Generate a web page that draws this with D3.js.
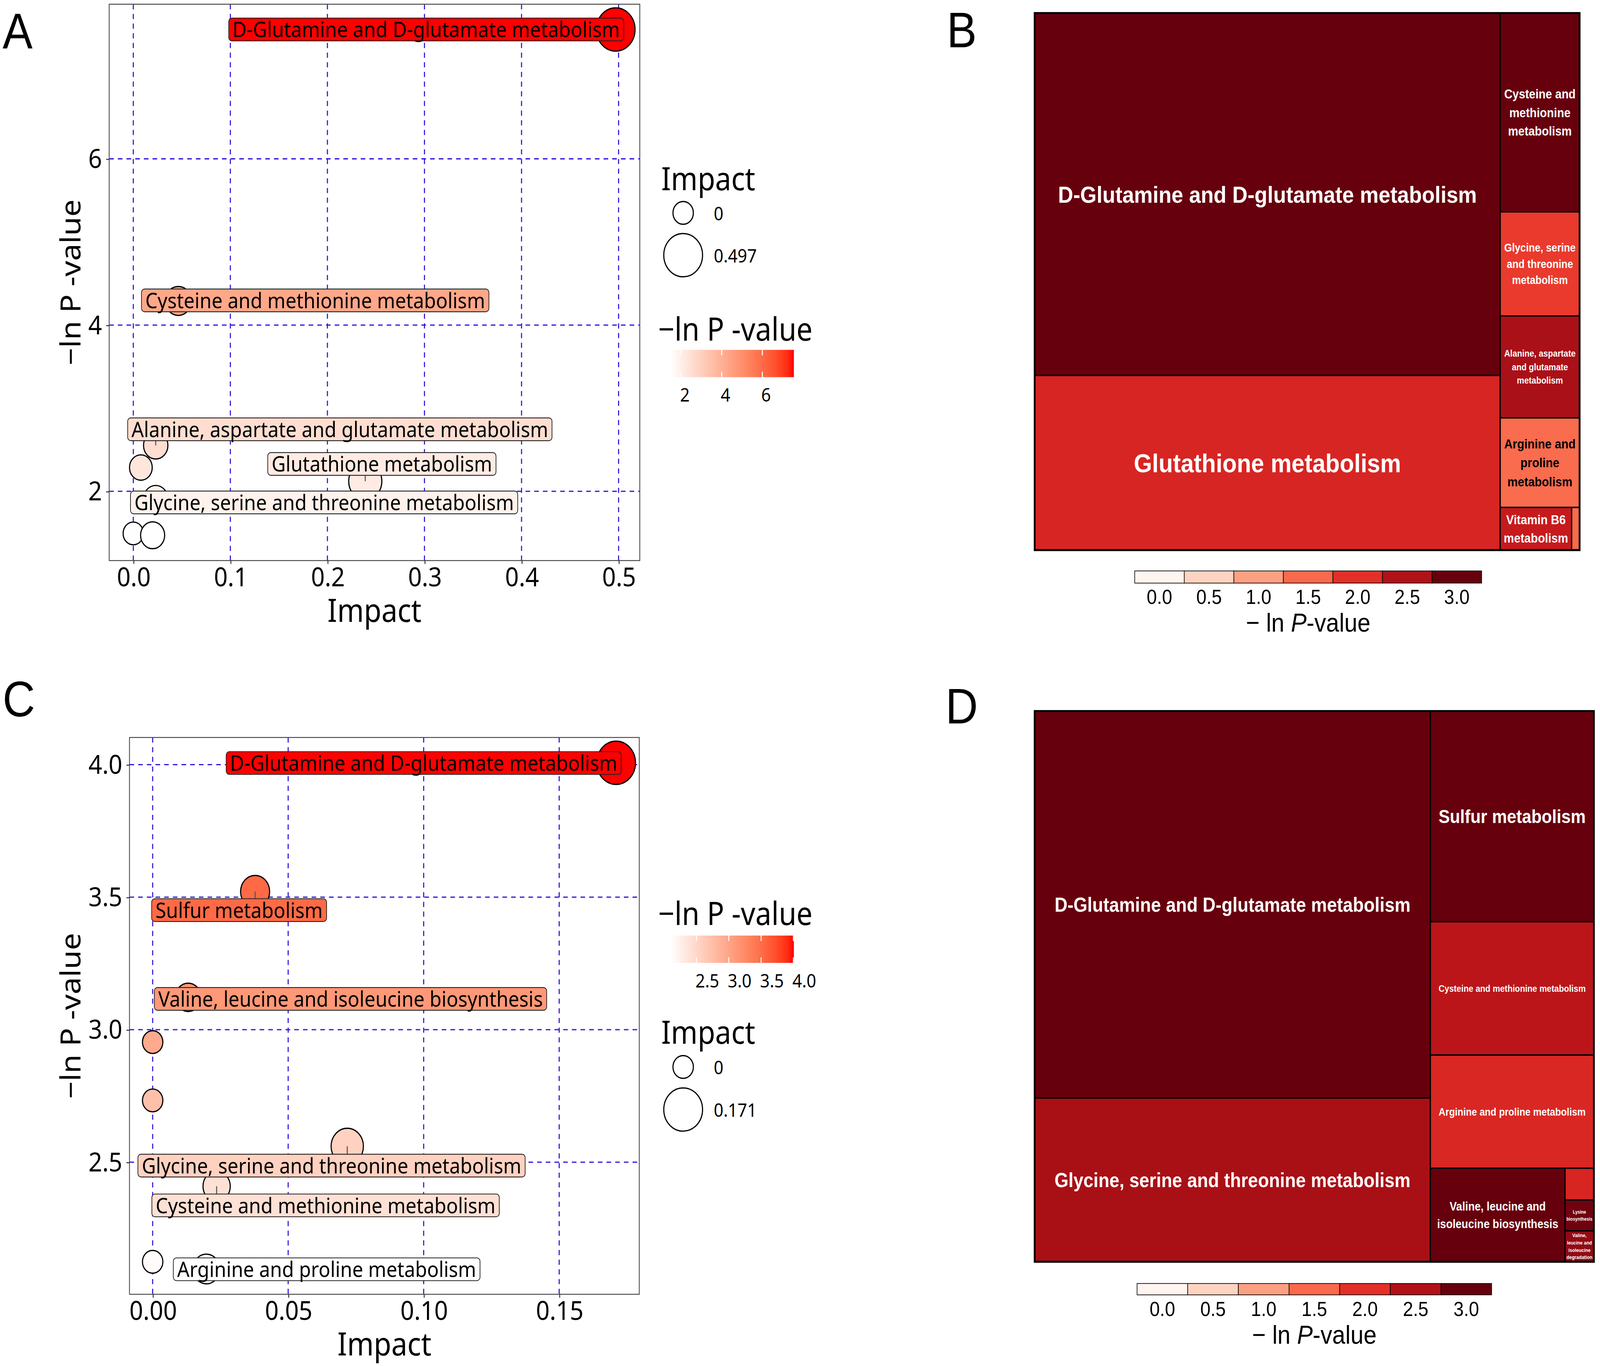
<!DOCTYPE html>
<html><head><meta charset="utf-8">
<script src="https://cdn.jsdelivr.net/npm/d3@7"></script>
<style>html,body{margin:0;padding:0;background:#fff;overflow:hidden;width:100%;height:100%}svg{display:block;width:100vw;height:100vh}</style>
</head><body>
<svg id="fig"></svg>
<script>
// ================= DATA =================
// Panel A – scatter (metabolic pathway analysis)
const pathwaysA = ["D-Glutamine and D-glutamate metabolism","Cysteine and methionine metabolism","Alanine, aspartate and glutamate metabolism","Vitamin B6 metabolism","Glycine, serine and threonine metabolism","Glutathione metabolism","","Arginine and proline metabolism"];
const impactA = [0.497, 0.0464, 0.0231, 0.0078, 0.0231, 0.239, 0, 0.0199];
const lnpA    = [7.556, 4.290, 2.552, 2.286, 1.907, 2.121, 1.493, 1.471];
const labeledA = [true, true, true, false, true, true, false, false];
// label placement (ggrepel result) in data units: [impact, -lnP]
const labelAtA = [[0.3018,7.556],[0.1874,4.297],[0.2128,2.746],null,[0.1966,1.866],[0.2561,2.329],null,null];
const xTicksA = [0, 0.1, 0.2, 0.3, 0.4, 0.5];
const yTicksA = [2, 4, 6];
const colorTicksA = [2, 4, 6];
const sizeLegendA = [0, 0.497];

// Panel B – treemap (size = impact, colour = -ln P)
const namesB = ["D-Glutamine and D-glutamate metabolism","Glutathione metabolism","Cysteine and|methionine|metabolism","Glycine, serine|and threonine|metabolism","Alanine, aspartate|and glutamate|metabolism","Arginine and|proline|metabolism","Vitamin B6|metabolism",""];
const sizeB = [0.498, 0.240, 0.0466, 0.0244, 0.0239, 0.0210, 0.0090, 0.0010];
const lnpB  = [7.556, 2.121, 4.290, 1.907, 2.552, 1.471, 2.286, 1.493];
const nestB = {dir:"h", children:[{dir:"v", children:[0,1]}, {dir:"v", children:[2,3,4,5,{dir:"h", children:[6,7]}]}]};

// Panel C – scatter
const pathwaysC = ["D-Glutamine and D-glutamate metabolism","Sulfur metabolism","Valine, leucine and isoleucine biosynthesis","Lysine biosynthesis","Valine, leucine and isoleucine degradation","Glycine, serine and threonine metabolism","Cysteine and methionine metabolism","","Arginine and proline metabolism"];
const impactC = [0.171, 0.0378, 0.0131, 0, 0, 0.0718, 0.0236, 0, 0.0198];
const lnpC    = [4.007, 3.521, 3.122, 2.953, 2.733, 2.560, 2.409, 2.124, 2.097];
const labeledC = [true, true, true, false, false, true, true, false, true];
const labelAtC = [[0.1000,4.006],[0.0319,3.451],[0.0730,3.116],null,null,[0.0660,2.487],[0.0638,2.337],null,[0.0642,2.096]];
const xTicksC = [0, 0.05, 0.10, 0.15];
const yTicksC = [2.5, 3.0, 3.5, 4.0];
const colorTicksC = [2.5, 3.0, 3.5, 4.0];
const sizeLegendC = [0, 0.171];

// Panel D – treemap
const namesD = ["D-Glutamine and D-glutamate metabolism","Glycine, serine and threonine metabolism","Sulfur metabolism","Cysteine and methionine metabolism","Arginine and proline metabolism","Valine, leucine and|isoleucine biosynthesis","","Lysine|biosynthesis","Valine,|leucine and|isoleucine|degradation"];
const sizeD = [0.1720, 0.0728, 0.0387, 0.0245, 0.0208, 0.01415, 0.00103, 0.0010, 0.0010];
const lnpD  = [4.007, 2.560, 3.521, 2.409, 2.097, 3.122, 2.124, 2.953, 2.733];
const nestD = {dir:"h", children:[{dir:"v", children:[0,1]}, {dir:"v", children:[2,3,4,{dir:"h", children:[5,{dir:"v", children:[6,7,8]}]}]}]};

// treemap legend tick labels
const treemapLegendValues = [0.0, 0.5, 1.0, 1.5, 2.0, 2.5, 3.0];

// ================= DRAWING =================
const W = 4567, H = 3497;
const VBW = 1568, VBH = VBW * H / W;
const svg = d3.select("#fig").attr("viewBox", `0 0 ${VBW} ${VBH}`).attr("preserveAspectRatio", "none");
svg.append("rect").attr("width", VBW).attr("height", VBH).attr("fill", "#fff");
const defs = svg.append("defs");

const FS = "'Noto Sans','Open Sans',sans-serif";
const FA = "'Liberation Sans',Arial,sans-serif";
const GRID = "#3311dd";

function scatter(cfg) {
  const g = svg.append("g");
  const {x0, x1, y0, y1} = cfg.frame;
  const xe = d3.extent(cfg.impact), ye = d3.extent(cfg.lnp);
  const xp = (xe[1] - xe[0]) * 0.05, yp = (ye[1] - ye[0]) * 0.05;
  const x = d3.scaleLinear().domain([xe[0] - xp, xe[1] + xp]).range([x0, x1]);
  const y = d3.scaleLinear().domain([ye[0] - yp, ye[1] + yp]).range([y1, y0]);
  const r = d3.scaleSqrt().domain([0, d3.max(cfg.impact)]).range([10, 19]);
  const col = d3.scaleLinear().domain(ye).range(["#ffffff", "#ff0000"]).interpolate(d3.interpolateLab);

  // grid
  g.append("g").selectAll("line").data(cfg.xTicks).join("line")
    .attr("x1", d => x(d)).attr("x2", d => x(d)).attr("y1", y0).attr("y2", y1)
    .attr("stroke", GRID).attr("stroke-width", 1.05).attr("stroke-dasharray", "4.5,4");
  g.append("g").selectAll("line").data(cfg.yTicks).join("line")
    .attr("y1", d => y(d)).attr("y2", d => y(d)).attr("x1", x0).attr("x2", x1)
    .attr("stroke", GRID).attr("stroke-width", 1.05).attr("stroke-dasharray", "4.5,4");

  const idx = d3.range(cfg.impact.length);
  // points
  g.append("g").selectAll("circle").data(idx).join("circle")
    .attr("cx", i => x(cfg.impact[i])).attr("cy", i => y(cfg.lnp[i])).attr("r", i => r(cfg.impact[i]))
    .attr("fill", i => col(cfg.lnp[i])).attr("stroke", "#000").attr("stroke-width", 1.1);

  // labels
  const segG = g.append("g"), labG = g.append("g");
  idx.filter(i => cfg.labeled[i]).forEach(i => {
    const [li, lv] = cfg.labelAt[i];
    const cx = x(li), cy = y(lv);
    const lg = labG.append("g");
    const t = lg.append("text").attr("font-family", FS).attr("font-size", 19).attr("text-anchor", "middle")
      .attr("x", cx).attr("y", cy + 0.357 * 19).attr("fill", "#000").text(cfg.names[i]);
    const tw = t.node().getComputedTextLength();
    const bw = tw + 7.5, bh = 20;
    const bx0 = cx - bw / 2, by0 = cy - bh / 2;
    lg.insert("rect", "text").attr("x", bx0).attr("y", by0).attr("width", bw).attr("height", bh)
      .attr("rx", 3).attr("fill", col(cfg.lnp[i])).attr("stroke", "#222").attr("stroke-width", 0.7);
    const px = x(cfg.impact[i]), py = y(cfg.lnp[i]);
    const qx = Math.max(bx0, Math.min(bx0 + bw, px)), qy = Math.max(by0, Math.min(by0 + bh, py));
    if (Math.hypot(qx - px, qy - py) > 2) {
      segG.append("line").attr("x1", px).attr("y1", py).attr("x2", qx).attr("y2", qy)
        .attr("stroke", "#555").attr("stroke-width", 1);
    }
  });

  // frame
  g.append("rect").attr("x", x0).attr("y", y0).attr("width", x1 - x0).attr("height", y1 - y0)
    .attr("fill", "none").attr("stroke", "#444").attr("stroke-width", 0.8);

  // axes
  const xa = g.append("g").attr("transform", `translate(0,${y1})`)
    .call(d3.axisBottom(x).tickValues(cfg.xTicks).tickFormat(cfg.xFmt).tickSize(3).tickPadding(3));
  const ya = g.append("g").attr("transform", `translate(${x0},0)`)
    .call(d3.axisLeft(y).tickValues(cfg.yTicks).tickFormat(cfg.yFmt).tickSize(3).tickPadding(4));
  [xa, ya].forEach(a => {
    a.select(".domain").remove();
    a.selectAll("line").attr("stroke", "#333").attr("stroke-width", 0.9);
    a.selectAll("text").attr("font-family", FS).attr("font-size", 23.5).attr("fill", "#000");
  });

  // axis titles
  g.append("text").attr("x", (x0 + x1) / 2).attr("y", y1 + 43).attr("text-anchor", "middle")
    .attr("dominant-baseline", "central").attr("font-family", FS).attr("font-size", 28).text("Impact");
  g.append("text").attr("transform", `translate(68.5,${(y0 + y1) / 2}) rotate(-90)`).attr("text-anchor", "middle")
    .attr("dominant-baseline", "central").attr("font-family", FS).attr("font-size", 27).text("\u2212ln P -value");

  // size legend
  const sl = cfg.sizeLegend;
  g.append("text").attr("x", 648).attr("y", sl.titleY).attr("dominant-baseline", "central")
    .attr("font-family", FS).attr("font-size", 28).text("Impact");
  cfg.sizeValues.forEach((v, k) => {
    const cyL = sl.keysY[k];
    g.append("circle").attr("cx", 669.5).attr("cy", cyL).attr("r", r(v)).attr("fill", "#fff")
      .attr("stroke", "#000").attr("stroke-width", 1.1);
    g.append("text").attr("x", 699.5).attr("y", cyL).attr("dominant-baseline", "central")
      .attr("font-family", FS).attr("font-size", 16.5).text(v === 0 ? "0" : String(v));
  });

  // colour legend
  const cl = cfg.colorLegend;
  g.append("text").attr("x", 645).attr("y", cl.titleY).attr("dominant-baseline", "central")
    .attr("font-family", FS).attr("font-size", 28).text("\u2212ln P -value");
  const gid = "grad" + cfg.id;
  const grad = defs.append("linearGradient").attr("id", gid).attr("x1", "0%").attr("x2", "100%");
  d3.range(0, 1.0001, 0.05).forEach(f => {
    grad.append("stop").attr("offset", (f * 100) + "%").attr("stop-color", col(ye[0] + f * (ye[1] - ye[0])));
  });
  const bx0 = 657, bx1 = 778, bh = 24;
  g.append("rect").attr("x", bx0).attr("y", cl.barY).attr("width", bx1 - bx0).attr("height", bh).attr("fill", `url(#${gid})`);
  const cb = d3.scaleLinear().domain(ye).range([bx0, bx1]);
  cfg.colorTicks.forEach(t => {
    const tx = cb(t);
    g.append("line").attr("x1", tx).attr("x2", tx).attr("y1", cl.barY).attr("y2", cl.barY + bh / 5).attr("stroke", "#fff").attr("stroke-width", 1);
    g.append("line").attr("x1", tx).attr("x2", tx).attr("y1", cl.barY + bh).attr("y2", cl.barY + bh * 4 / 5).attr("stroke", "#fff").attr("stroke-width", 1);
    g.append("text").attr("x", tx - 1).attr("y", cl.barY + bh + 15).attr("dominant-baseline", "central")
      .attr("font-family", FS).attr("font-size", 16.5).text(cfg.cFmt(t));
  });
}

const treeColor = d3.scaleSequential(d3.interpolateReds).domain([0, 3]).clamp(true);

function treemapPanel(cfg) {
  const g = svg.append("g");
  const {x0, y0, x1, y1} = cfg.frame;
  const build = n => (typeof n === "number") ? {leaf: n} : {dir: n.dir, children: n.children.map(build)};
  const root = d3.hierarchy(build(cfg.nest), d => d.children).sum(d => d.leaf !== undefined ? cfg.size[d.leaf] : 0);
  d3.treemap().size([x1 - x0, y1 - y0])
    .tile((node, a, b, c, d) => (node.data.dir === "h" ? d3.treemapDice : d3.treemapSlice)(node, a, b, c, d))(root);
  const leaves = root.leaves();
  const lg = g.append("g").attr("transform", `translate(${x0},${y0})`);
  lg.selectAll("rect").data(leaves).join("rect")
    .attr("x", d => d.x0).attr("y", d => d.y0).attr("width", d => d.x1 - d.x0).attr("height", d => d.y1 - d.y0)
    .attr("fill", d => treeColor(cfg.lnp[d.data.leaf])).attr("stroke", "#000").attr("stroke-width", 1.2);
  leaves.forEach(leaf => {
    const name = cfg.names[leaf.data.leaf];
    if (!name) return;
    const fill = treeColor(cfg.lnp[leaf.data.leaf]);
    const lines = name.split("|");
    const t = lg.append("text").attr("font-family", FA).attr("font-weight", "bold").attr("text-anchor", "middle")
      .attr("fill", d3.lab(fill).l > 55 ? "#000" : "#fff").attr("font-size", 100);
    const spans = lines.map(l => t.append("tspan").text(l));
    const wEm = d3.max(spans, s => s.node().getComputedTextLength()) / 100;
    const w = leaf.x1 - leaf.x0, h = leaf.y1 - leaf.y0;
    const fs = Math.min(23, 0.9 * w / wEm, 0.95 * h / (lines.length * 1.45));
    t.attr("font-size", fs);
    const cx = (leaf.x0 + leaf.x1) / 2, cy = (leaf.y0 + leaf.y1) / 2;
    spans.forEach((s, i) => s.attr("x", cx).attr("y", cy + (i - (lines.length - 1) / 2) * fs * 1.45 + 0.358 * fs));
  });
  g.append("rect").attr("x", x0).attr("y", y0).attr("width", x1 - x0).attr("height", y1 - y0)
    .attr("fill", "none").attr("stroke", "#000").attr("stroke-width", 1.8);

  // legend
  const L = cfg.legend;
  const n = treemapLegendValues.length, bw = (L.x1 - L.x0) / n;
  treemapLegendValues.forEach((v, i) => {
    g.append("rect").attr("x", L.x0 + i * bw).attr("y", L.y0).attr("width", bw).attr("height", L.h)
      .attr("fill", treeColor(v)).attr("stroke", "#000").attr("stroke-width", 0.6);
    g.append("text").attr("x", L.x0 + (i + 0.5) * bw).attr("y", L.labelY).attr("text-anchor", "middle")
      .attr("dominant-baseline", "central").attr("font-family", FA).attr("font-size", 18).text(d3.format(".1f")(v));
  });
  const tt = g.append("text").attr("x", (L.x0 + L.x1) / 2).attr("y", L.titleY).attr("text-anchor", "middle")
    .attr("dominant-baseline", "central").attr("font-family", FA).attr("font-size", 23);
  tt.append("tspan").text("\u2212 ln ");
  tt.append("tspan").attr("font-style", "italic").text("P");
  tt.append("tspan").text("-value");
}

scatter({
  id: "A", frame: {x0: 107, x1: 627, y0: 3.7, y1: 492.7},
  impact: impactA, lnp: lnpA, names: pathwaysA, labeled: labeledA, labelAt: labelAtA,
  xTicks: xTicksA, yTicks: yTicksA, xFmt: d3.format(".1f"), yFmt: d3.format("d"),
  colorTicks: colorTicksA, cFmt: d3.format("d"), sizeValues: sizeLegendA,
  sizeLegend: {titleY: 156.2, keysY: [187.1, 224.3]},
  colorLegend: {titleY: 288.7, barY: 307.5}
});
scatter({
  id: "C", frame: {x0: 126.9, x1: 626.5, y0: 648.2, y1: 1137.6},
  impact: impactC, lnp: lnpC, names: pathwaysC, labeled: labeledC, labelAt: labelAtC,
  xTicks: xTicksC, yTicks: yTicksC, xFmt: d3.format(".2f"), yFmt: d3.format(".1f"),
  colorTicks: colorTicksC, cFmt: d3.format(".1f"), sizeValues: sizeLegendC,
  sizeLegend: {titleY: 906.7, keysY: [937.8, 975.2]},
  colorLegend: {titleY: 802.3, barY: 822.3}
});
treemapPanel({
  frame: {x0: 1014, y0: 11.5, x1: 1548, y1: 483.5}, names: namesB, size: sizeB, lnp: lnpB, nest: nestB,
  legend: {x0: 1112, x1: 1452, y0: 501.8, h: 10.7, labelY: 524.5, titleY: 547}
});
treemapPanel({
  frame: {x0: 1014, y0: 625, x1: 1562, y1: 1109}, names: namesD, size: sizeD, lnp: lnpD, nest: nestD,
  legend: {x0: 1114.3, x1: 1461.8, y0: 1128.1, h: 10, labelY: 1150.6, titleY: 1172.8}
});

// panel letters
[["A", 2.6, 42.5], ["B", 927.8, 41.5], ["C", 2.6, 629.8], ["D", 926.6, 636]].forEach(([s, lx, ly]) => {
  svg.append("text").attr("x", lx).attr("y", ly).attr("font-family", FA).attr("font-size", 44).attr("fill", "#000").text(s);
});
</script>
</body></html>
